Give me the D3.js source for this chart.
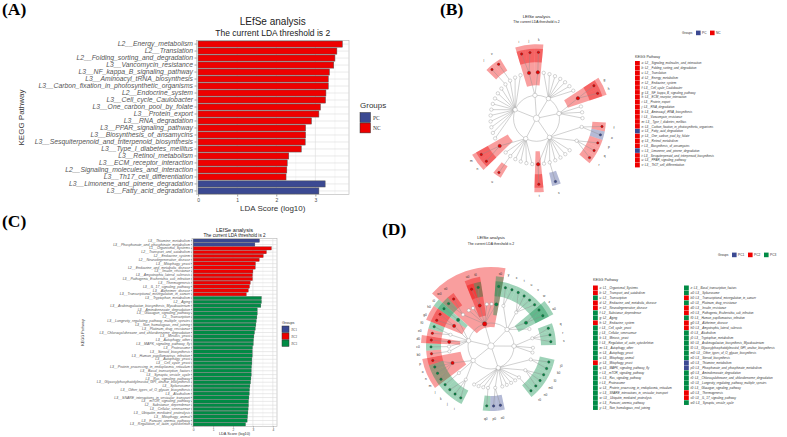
<!DOCTYPE html>
<html><head><meta charset="utf-8">
<script src="https://cdn.jsdelivr.net/npm/d3@7/dist/d3.min.js"></script>
<style>body{margin:0;background:#fff}svg{display:block}</style>
</head><body><div id="chart"></div>
<script>
const W = 787, H = 437;
const blue = "#3B4992", red = "#EE0000", green = "#008B45";
const font = "'Liberation Sans', Arial, sans-serif";

// ---- panel A : LDA bars, PC vs NC
const aNames = ["L2__Energy_metabolism","L2__Translation","L2__Folding_sorting_and_degradation","L3__Vancomycin_resistance",
  "L3__NF_kappa_B_signaling_pathway","L3__Aminoacyl_tRNA_biosynthesis","L3__Carbon_fixation_in_photosynthetic_organisms",
  "L2__Endocrine_system","L3__Cell_cycle_Caulobacter","L3__One_carbon_pool_by_folate","L3__Protein_export","L3__RNA_degradation",
  "L3__PPAR_signaling_pathway","L3__Biosynthesis_of_ansamycins","L3__Sesquiterpenoid_and_triterpenoid_biosynthesis",
  "L3__Type_I_diabetes_mellitus","L3__Retinol_metabolism","L3__ECM_receptor_interaction","L2__Signaling_molecules_and_interaction",
  "L3__Th17_cell_differentiation","L3__Limonene_and_pinene_degradation","L3__Fatty_acid_degradation"];
const aScores = [3.69,3.55,3.50,3.47,3.36,3.33,3.33,3.27,3.26,3.13,3.09,2.90,2.75,2.75,2.74,2.64,2.32,2.28,2.27,2.25,3.25,3.09];
const aGroups = ["NC","NC","NC","NC","NC","NC","NC","NC","NC","NC","NC","NC","NC","NC","NC","NC","NC","NC","NC","NC","PC","PC"];
const aLegend = ["PC","NC"];
const aTicks = [0,1,2,3];

// ---- panel C : LDA bars, PC1 / PC2 / PC3
const cNames = ["L3__Thiamine_metabolism","L3__Phosphonate_and_phosphinate_metabolism","L1__Organismal_Systems",
  "L2__Transport_and_catabolism","L2__Endocrine_system","L2__Neurodegenerative_disease","L3__Mitophagy_yeast",
  "L2__Endocrine_and_metabolic_disease","L3__Insulin_resistance","L3__Amyotrophic_lateral_sclerosis",
  "L3__Pathogenic_Escherichia_coli_infection","L3__Thermogenesis","L3__IL_17_signaling_pathway","L3__Alzheimer_disease",
  "L3__Transcriptional_misregulation_in_cancer","L3__Tryptophan_metabolism","L2__Aging",
  "L3__Arabinogalactan_biosynthesis_Mycobacterium","L3__Aminobenzoate_degradation","L3__Glucagon_signaling_pathway",
  "L2__Transcription","L3__Longevity_regulating_pathway_multiple_species","L3__Non_homologous_end_joining",
  "L3__Platinum_drug_resistance","L3__Chlorocyclohexane_and_chlorobenzene_degradation","L3__Meiosis_yeast",
  "L3__Autophagy_other","L3__MAPK_signaling_pathway_fly","L3__Proteasome","L3__Steroid_biosynthesis",
  "L3__Human_papillomavirus_infection","L3__Autophagy_yeast","L3__Cell_cycle_yeast",
  "L3__Protein_processing_in_endoplasmic_reticulum","L3__Basal_transcription_factors","L3__Synaptic_vesicle_cycle",
  "L3__Ras_signaling_pathway","L3__Glycosylphosphatidylinositol_GPI_anchor_biosynthesis","L3__Spliceosome",
  "L3__Other_types_of_O_glycan_biosynthesis","L3__Alcoholism","L3__SNARE_interactions_in_vesicular_transport",
  "L3__mTOR_signaling_pathway","L2__Substance_dependence","L3__Cellular_senescence","L3__Ubiquitin_mediated_proteolysis",
  "L3__Mitophagy_animal","L3__Fanconi_anemia_pathway","L3__Regulation_of_actin_cytoskeleton"];
const cScores = [3.33,3.10,
  3.93,3.68,3.52,3.32,3.13,3.12,3.00,2.98,2.98,2.87,2.83,2.77,2.67,
  3.43,3.43,3.40,3.22,3.22,3.20,3.17,3.15,3.12,3.08,3.05,3.03,3.02,2.98,2.97,2.97,2.95,2.95,2.93,2.92,
  2.92,2.90,2.88,2.85,2.83,2.82,2.80,2.78,2.78,2.76,2.75,2.73,2.71,2.63];
const cGroups = ["PC1","PC1","PC2","PC2","PC2","PC2","PC2","PC2","PC2","PC2","PC2","PC2","PC2","PC2","PC2",
  "PC3","PC3","PC3","PC3","PC3","PC3","PC3","PC3","PC3","PC3","PC3","PC3","PC3","PC3","PC3","PC3","PC3","PC3",
  "PC3","PC3","PC3","PC3","PC3","PC3","PC3","PC3","PC3","PC3","PC3","PC3","PC3","PC3","PC3","PC3"];
const cLegend = ["PC1","PC2","PC3"];
const cTicks = [0,1,2,3,4];

// ---- panel B : cladogram PC vs NC
const bKeys = ["a","b","c","d","e","f","g","h","i","j","k","l","m","n","o","p","q","r","s","t","u","v"];
const bNames = ["L2__Signaling_molecules_and_interaction","L2__Folding_sorting_and_degradation","L2__Translation",
  "L2__Energy_metabolism","L2__Endocrine_system","L3__Cell_cycle_Caulobacter","L3__NF_kappa_B_signaling_pathway",
  "L3__ECM_receptor_interaction","L3__Protein_export","L3__RNA_degradation","L3__Aminoacyl_tRNA_biosynthesis",
  "L3__Vancomycin_resistance","L3__Type_I_diabetes_mellitus","L3__Carbon_fixation_in_photosynthetic_organisms",
  "L3__Fatty_acid_degradation","L3__One_carbon_pool_by_folate","L3__Retinol_metabolism","L3__Biosynthesis_of_ansamycins",
  "L3__Limonene_and_pinene_degradation","L3__Sesquiterpenoid_and_triterpenoid_biosynthesis",
  "L3__PPAR_signaling_pathway","L3__Th17_cell_differentiation"];
const bGroups = ["NC","NC","NC","NC","NC","NC","NC","NC","NC","NC","NC","NC","NC","NC","PC","NC","NC","NC","PC","NC","NC","NC"];
// first entry = level-1 clade key ("-" unnamed), then level-2 clades "key>child,child"
const bTree = [
  ["-", "b>i,j", "c>k"],
  ["-", "-", "-", "-", "-", "-", "-", "-"],
  ["-", "e>g,h", "-", "-", "-"],
  ["-", "->f,o", "->p,q,r", "-", "-", "-", "-", "->s", "-", "a>t"],
  ["-", "-", "-", "-", "-", "->u", "-", "d>n,m"],
  ["-", "-", "-", "-", "-", "-", "-", "-", "-", "-", "-", "->l", "->v", "-", "-"]
];

// ---- panel D : cladogram PC1 / PC2 / PC3
const dKeys = ["a","b","c","d","e","f","g","h","i","j","k","l","m","n","o","p","q","r","s","t","u","v","w","x","y",
  "z","a0","b0","c0","d0","e0","f0","g0","h0","i0","j0","k0","l0","m0","n0","o0","p0","q0","r0","s0","t0","u0","v0","w0"];
const dNames = ["L1__Organismal_Systems","L2__Transport_and_catabolism","L2__Transcription","L2__Endocrine_and_metabolic_disease",
  "L2__Neurodegenerative_disease","L2__Substance_dependence","L2__Aging","L2__Endocrine_system","L3__Cell_cycle_yeast",
  "L3__Cellular_senescence","L3__Meiosis_yeast","L3__Regulation_of_actin_cytoskeleton","L3__Autophagy_other",
  "L3__Autophagy_yeast","L3__Mitophagy_animal","L3__Mitophagy_yeast","L3__MAPK_signaling_pathway_fly",
  "L3__mTOR_signaling_pathway","L3__Ras_signaling_pathway","L3__Proteasome","L3__Protein_processing_in_endoplasmic_reticulum",
  "L3__SNARE_interactions_in_vesicular_transport","L3__Ubiquitin_mediated_proteolysis","L3__Fanconi_anemia_pathway",
  "L3__Non_homologous_end_joining","L3__Basal_transcription_factors","L3__Spliceosome",
  "L3__Transcriptional_misregulation_in_cancer","L3__Platinum_drug_resistance","L3__Insulin_resistance",
  "L3__Pathogenic_Escherichia_coli_infection","L3__Human_papillomavirus_infection","L3__Alzheimer_disease",
  "L3__Amyotrophic_lateral_sclerosis","L3__Alcoholism","L3__Tryptophan_metabolism",
  "L3__Arabinogalactan_biosynthesis_Mycobacterium","L3__Glycosylphosphatidylinositol_GPI_anchor_biosynthesis",
  "L3__Other_types_of_O_glycan_biosynthesis","L3__Steroid_biosynthesis","L3__Thiamine_metabolism",
  "L3__Phosphonate_and_phosphinate_metabolism","L3__Aminobenzoate_degradation",
  "L3__Chlorocyclohexane_and_chlorobenzene_degradation","L3__Longevity_regulating_pathway_multiple_species",
  "L3__Glucagon_signaling_pathway","L3__Thermogenesis","L3__IL_17_signaling_pathway","L3__Synaptic_vesicle_cycle"];
const dGroups = ["PC2","PC2","PC3","PC2","PC2","PC3","PC3","PC2","PC3","PC3","PC3","PC3","PC3","PC3","PC3","PC2",
  "PC3","PC3","PC3","PC3","PC3","PC3","PC3","PC3","PC3",
  "PC3","PC3","PC2","PC3","PC2","PC2","PC3","PC2","PC2","PC3","PC3","PC3","PC3","PC3","PC3","PC1","PC1",
  "PC3","PC3","PC3","PC3","PC2","PC2","PC3"];
const dTree = [
  ["a", "->w0,v0", "-", "-", "h>u0,t0", "-", "-", "g>s0"],
  ["-", "->y,x", "->t,u,v,w", "c>z,a0", "-"],
  ["-", "->q,r,s", "-", "-"],
  ["-", "->j0,k0", "->l0,m0,n0", "->r0", "-", "-", "-", "-", "->o0,p0", "->q0", "-", "-", "-"],
  ["-", "->i,j,k", "->l", "b>m,n,o,p"],
  ["-", "->b0", "->c0", "d>d0", "->e0,f0", "e>g0,h0", "f>i0"]
];

const colAB = {PC: blue, NC: red};
const colCD = {PC1: blue, PC2: red, PC3: green};

const svg = d3.select("#chart").append("svg").attr("width", W).attr("height", H)
  .style("font-family", font);
svg.append("rect").attr("width", W).attr("height", H).attr("fill", "#fff");

function barPanel(o) {
  const g = svg.append("g");
  const x = d3.scaleLinear(o.domain, [o.left, o.right]);
  const y = d3.scaleBand(o.names, [o.top, o.bottom]).paddingInner(0.12);
  g.append("rect").attr("x", o.left).attr("y", o.top - o.pad)
    .attr("width", o.right - o.left).attr("height", o.bottom - o.top + 2 * o.pad)
    .attr("fill", "#fff").attr("stroke", "#b3b3b3").attr("stroke-width", 0.6);
  const minor = o.ticks.map(t => t + 0.5).filter(t => t < o.domain[1]);
  g.selectAll(".vm").data(minor).join("line")
    .attr("x1", d => x(d)).attr("x2", d => x(d)).attr("y1", o.top - o.pad).attr("y2", o.bottom + o.pad)
    .attr("stroke", "#ececec").attr("stroke-width", 0.4);
  g.selectAll(".vg").data(o.ticks).join("line")
    .attr("x1", d => x(d)).attr("x2", d => x(d)).attr("y1", o.top - o.pad).attr("y2", o.bottom + o.pad)
    .attr("stroke", "#dcdcdc").attr("stroke-width", 0.6);
  g.selectAll(".hg").data(o.names).join("line")
    .attr("x1", o.left).attr("x2", o.right)
    .attr("y1", d => y(d) + y.bandwidth() / 2).attr("y2", d => y(d) + y.bandwidth() / 2)
    .attr("stroke", "#dcdcdc").attr("stroke-width", 0.6);
  g.selectAll(".bar").data(o.names).join("rect")
    .attr("x", x(0)).attr("y", d => y(d))
    .attr("width", (d, i) => x(o.scores[i]) - x(0)).attr("height", y.bandwidth())
    .attr("fill", (d, i) => o.colors[o.groups[i]])
    .attr("stroke", "#555").attr("stroke-width", o.barStroke);

  const ya = g.append("g").attr("transform", `translate(${o.left},0)`)
    .call(d3.axisLeft(y).tickSize(o.tick).tickPadding(o.tickPad));
  ya.select(".domain").remove();
  ya.selectAll("line").attr("stroke", "#444").attr("stroke-width", 0.5);
  ya.selectAll("text").attr("font-size", o.labelSize).attr("font-style", "italic")
    .attr("font-family", font).attr("fill", "#555");

  const xa = g.append("g").attr("transform", `translate(0,${o.bottom + o.pad})`)
    .call(d3.axisBottom(x).tickValues(o.ticks).tickFormat(d3.format("d")).tickSize(o.tick).tickPadding(o.tickPad));
  xa.select(".domain").remove();
  xa.selectAll("line").attr("stroke", "#444").attr("stroke-width", 0.5);
  xa.selectAll("text").attr("font-size", o.tickSize).attr("font-family", font).attr("fill", "#4d4d4d");

  const mid = (o.left + o.right) / 2;
  g.append("text").attr("x", mid).attr("y", o.titleY).attr("text-anchor", "middle")
    .attr("font-size", o.titleSize).attr("fill", "#222").text("LEfSe analysis");
  g.append("text").attr("x", mid).attr("y", o.subY).attr("text-anchor", "middle")
    .attr("font-size", o.subSize).attr("fill", "#222").text("The current LDA threshold is 2");
  g.append("text").attr("x", mid).attr("y", o.xlabY).attr("text-anchor", "middle")
    .attr("font-size", o.axisSize).attr("fill", "#333").text("LDA Score (log10)");
  g.append("text").attr("transform", `translate(${o.ylabX},${(o.top + o.bottom) / 2}) rotate(-90)`)
    .attr("text-anchor", "middle").attr("font-size", o.axisSize).attr("fill", "#333").text("KEGG Pathway");

  const lg = g.append("g").attr("transform", `translate(${o.legX},${o.legY})`);
  lg.append("text").attr("y", 0).attr("font-size", o.legTitle).attr("fill", "#333").text("Groups");
  lg.selectAll("rect").data(o.legend).join("rect")
    .attr("x", 0).attr("y", (d, i) => o.legGap + i * o.legBox)
    .attr("width", o.legBox).attr("height", o.legBox - 0.6)
    .attr("fill", d => o.colors[d]).attr("stroke", "#333").attr("stroke-width", 0.5);
  lg.selectAll(".lt").data(o.legend).join("text")
    .attr("x", o.legBox + 2.5).attr("y", (d, i) => o.legGap + i * o.legBox + o.legBox * 0.68)
    .attr("font-size", o.legText).attr("font-family", "'Liberation Serif', serif").attr("fill", "#333").text(d => d);
}

barPanel({names: aNames, scores: aScores, groups: aGroups, colors: colAB, legend: aLegend, ticks: aTicks,
  domain: [-0.04, 3.86], left: 196.5, right: 349, top: 41, bottom: 194, pad: 0.5, barStroke: 0.5,
  tick: 2, tickPad: 1.5, labelSize: 6.8, tickSize: 5, titleSize: 10, subSize: 8.5, axisSize: 8,
  titleY: 24.5, subY: 36, xlabY: 211, ylabX: 24,
  legX: 360, legY: 108, legGap: 4.5, legBox: 10.5, legTitle: 8, legText: 5.5});

barPanel({names: cNames, scores: cScores, groups: cGroups, colors: colCD, legend: cLegend, ticks: cTicks,
  domain: [-0.06, 4.21], left: 192, right: 277, top: 239, bottom: 426, pad: 0.5, barStroke: 0.3,
  tick: 1, tickPad: 0.8, labelSize: 3.5, tickSize: 3.2, titleSize: 5.6, subSize: 4.6, axisSize: 3.8,
  titleY: 231.5, subY: 237.2, xlabY: 435, ylabX: 84,
  legX: 282, legY: 324, legGap: 2, legBox: 7, legTitle: 3.8, legText: 3.2});

function parseTree(tree) {
  return {children: tree.map(c => ({
    key: c[0] === "-" ? null : c[0],
    children: c.slice(1).map(s => {
      const [p, kids] = s.split(">");
      const node = {key: p === "-" ? null : p};
      if (kids) node.children = kids.split(",").map(k => ({key: k}));
      return node;
    })
  }))};
}

function clado(o) {
  const g = svg.append("g").attr("transform", `translate(${o.cx},${o.cy})`);
  const root = d3.hierarchy(parseTree(o.tree));
  d3.cluster().size([360, 1]).separation(() => 1)(root);
  const n = root.leaves().length, half = 180 / n, rad = Math.PI / 180;
  const ang = d => (d.x + o.offset) * rad;
  const pt = (a, r) => [r * Math.sin(a), -r * Math.cos(a)];
  const grp = Object.fromEntries(o.keys.map((k, i) => [k, o.groups[i]]));
  const hl = root.descendants().filter(d => d.data.key && grp[d.data.key]).sort((a, b) => a.depth - b.depth);
  const arc = d3.arc();

  g.selectAll(".sec").data(hl).join("path")
    .attr("d", d => {
      const lv = d.leaves();
      return arc({innerRadius: o.secIn[d.depth], outerRadius: o.secOut[d.depth],
        startAngle: (lv[0].x - half + o.offset) * rad, endAngle: (lv[lv.length - 1].x + half + o.offset) * rad});
    })
    .attr("fill", d => o.colors[grp[d.data.key]]).attr("fill-opacity", 0.38);

  g.append("circle").attr("r", o.r[1]).attr("fill", "none").attr("stroke", "#8c8c8c").attr("stroke-width", 0.4);
  g.selectAll(".lk").data(root.links()).join("line")
    .each(function (l) {
      const a = pt(ang(l.source), o.r[l.source.depth]), b = pt(ang(l.target), o.r[l.target.depth]);
      d3.select(this).attr("x1", a[0]).attr("y1", a[1]).attr("x2", b[0]).attr("y2", b[1]);
    })
    .attr("stroke", "#8c8c8c").attr("stroke-width", 0.4);

  g.selectAll(".nd").data(root.descendants()).join("circle")
    .attr("cx", d => pt(ang(d), o.r[d.depth])[0]).attr("cy", d => pt(ang(d), o.r[d.depth])[1])
    .attr("r", d => o.nodeR[d.depth])
    .attr("fill", d => d.data.key && grp[d.data.key] ? o.colors[grp[d.data.key]] : "#fff")
    .attr("stroke", d => d.data.key && grp[d.data.key] ? "#333" : "#8c8c8c").attr("stroke-width", 0.35);

  const lab = hl.filter(d => !d.children || !d.children.some(c => c.data.key));
  g.selectAll(".lab").data(lab).join("text")
    .attr("x", d => pt(ang(d), o.labR)[0]).attr("y", d => pt(ang(d), o.labR)[1] + 1)
    .attr("text-anchor", "middle").attr("font-size", 3.2).attr("fill", "#333").text(d => d.data.key);

  svg.append("text").attr("x", o.cx).attr("y", o.titleY).attr("text-anchor", "middle")
    .attr("font-size", o.titleSize).attr("fill", "#222").text("LEfSe analysis");
  svg.append("text").attr("x", o.cx).attr("y", o.titleY + o.subGap).attr("text-anchor", "middle")
    .attr("font-size", o.titleSize * 0.82).attr("fill", "#222").text("The current LDA threshold is 2");

  // group legend
  const gl = svg.append("g").attr("transform", `translate(${o.gLeg[0]},${o.gLeg[1]})`).attr("font-size", 3.2).attr("fill", "#333");
  gl.append("text").attr("y", 1.2).text("Groups");
  o.legend.forEach((k, i) => {
    const x0 = 14 + i * o.gStep;
    gl.append("rect").attr("x", x0).attr("y", -2.4).attr("width", 4.6).attr("height", 4.6).attr("fill", o.colors[k]);
    gl.append("text").attr("x", x0 + 6).attr("y", 1.2).text(k);
  });

  // KEGG legend
  const kl = svg.append("g").attr("transform", `translate(${o.kLeg[0]},${o.kLeg[1]})`);
  kl.append("text").attr("y", 0).attr("font-size", 3.6).attr("fill", "#333").text("KEGG Pathway");
  o.keys.forEach((k, i) => {
    const col = Math.floor(i / o.perCol), row = i % o.perCol;
    const x0 = col * o.colW, y0 = o.rowTop + row * o.rowH;
    kl.append("rect").attr("x", x0).attr("y", y0).attr("width", 4.8).attr("height", o.rowH - 0.3)
      .attr("fill", o.colors[o.groups[i]]);
    kl.append("text").attr("x", x0 + 6.6).attr("y", y0 + o.rowH * 0.72).attr("font-size", 3)
      .attr("font-style", "italic").attr("fill", "#333").text(`${k}: ${o.names[i]}`);
  });
}

clado({cx: 536.5, cy: 118.3, tree: bTree, keys: bKeys, groups: bGroups, names: bNames, colors: colAB,
  offset: -16.7, r: [0, 23, 46, 66], secIn: {2: 33, 3: 56}, secOut: {2: 74, 3: 69.5},
  nodeR: [3.2, 2.2, 1.7, 1.2], labR: 78,
  titleY: 17.5, titleSize: 4.2, subGap: 5.8,
  gLeg: [682, 33], gStep: 14, legend: ["PC", "NC"],
  kLeg: [635, 58], rowTop: 3, rowH: 4.85, perCol: 22, colW: 0});

clado({cx: 491, cy: 346, tree: dTree, keys: dKeys, groups: dGroups, names: dNames, colors: colCD,
  offset: -48.3, r: [0, 23, 42, 60], secIn: {1: 19, 2: 31, 3: 50}, secOut: {1: 79, 2: 70, 3: 65},
  nodeR: [3.2, 2.2, 1.6, 1.2], labR: 73,
  titleY: 239, titleSize: 4.2, subGap: 6,
  gLeg: [718, 255], gStep: 16, legend: ["PC1", "PC2", "PC3"],
  kLeg: [593, 281], rowTop: 4.5, rowH: 4.99, perCol: 25, colW: 91});

// panel letters
const tags = [["(A)", 2, 14.5], ["(B)", 440, 14.5], ["(C)", 2, 227], ["(D)", 382, 235]];
svg.selectAll(".tag").data(tags).join("text")
  .attr("x", d => d[1]).attr("y", d => d[2])
  .attr("font-family", "'Liberation Serif', 'Times New Roman', serif").attr("font-weight", "bold")
  .attr("font-size", 17.5).attr("fill", "#000").text(d => d[0]);
</script>
</body></html>
